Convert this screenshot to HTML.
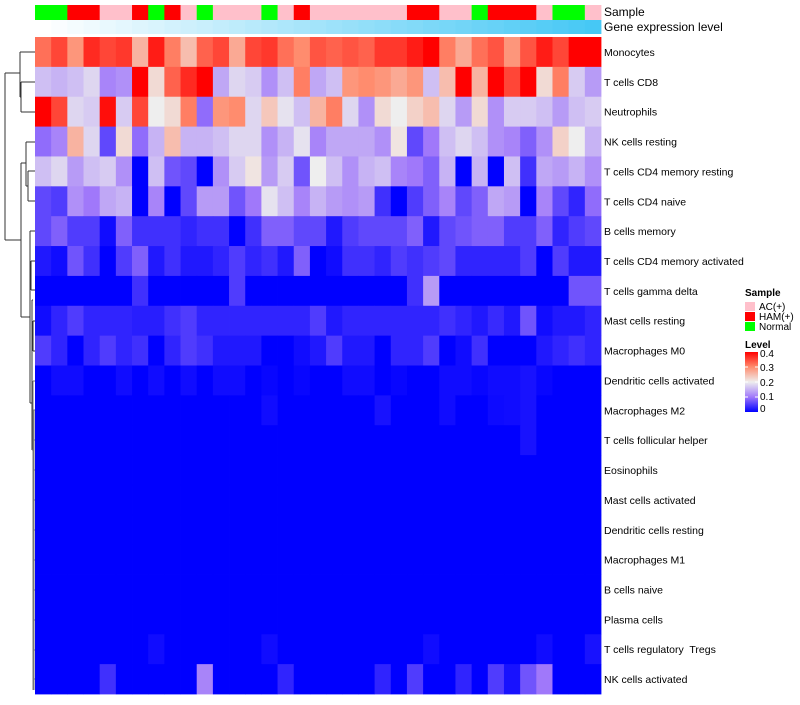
<!DOCTYPE html>
<html><head><meta charset="utf-8"><style>
body{margin:0;background:#fff;}
svg text{font-family:"Liberation Sans",sans-serif;white-space:pre;}
</style></head><body>
<svg id="chart" width="800" height="700" xmlns="http://www.w3.org/2000/svg">
<g id="dendro" stroke="#333" stroke-width="1" fill="none">
<path d="M5,73 V240 M5,73 H20 M5,240 H21"/>
<path d="M20,52 V97 M20,52 H35 M20,97 H21 M21,82 V112 M21,82 H35 M21,112 H35"/>
<path d="M21,163 V317 M21,163 H26 M21,317 H30"/>
<path d="M26,142 V186 M26,142 H35 M26,186 H28 M28,171 V201 M28,171 H35 M28,201 H35"/>
<path d="M30,231 V403 M30,231 H35 M31,261 V290 M31,261 H35 M31,290 H35 M30,275 H31"/>
<path d="M30,403 H32 M32,300 V450 M32,300 H33 M33,321 V351 M33,321 H35 M33,351 H35"/>
<path stroke="#777" d="M32,450 H33 M33,381 V690 M33,381 H35 M34,410 V690 M33,410 H35 M34,440 H35 M34,470 H35 M34,500 H35 M34,530 H35 M34,560 H35 M34,590 H35 M34,620 H35 M34,650 H35 M34,679 H35"/>
</g>
<g id="annot"></g>
<g id="cells"></g>
<g id="labels"></g>
<text x="604" y="16" font-size="12">Sample</text>
<text x="604" y="31" font-size="12">Gene expression level</text>
<g>
<text x="745" y="296" font-size="10" font-weight="bold">Sample</text>
<rect x="745" y="302" width="10" height="9" fill="#FFC0CB"/>
<text x="759" y="310" font-size="10">AC(+)</text>
<rect x="745" y="312" width="10" height="9" fill="#FF0000"/>
<text x="759" y="320" font-size="10">HAM(+)</text>
<rect x="745" y="322" width="10" height="9" fill="#00FF00"/>
<text x="759" y="330" font-size="10">Normal</text>
<text x="745" y="348" font-size="10" font-weight="bold">Level</text>
<defs><linearGradient id="lg" x1="0" y1="0" x2="0" y2="1">
<stop offset="0" stop-color="#ff0000"/><stop offset="0.25" stop-color="#ff8c6e"/><stop offset="0.5" stop-color="#eeeeee"/><stop offset="0.75" stop-color="#a078fa"/><stop offset="1" stop-color="#0000ff"/></linearGradient></defs>
<rect x="745" y="352" width="13" height="60" fill="url(#lg)"/>
<g stroke="#fff" stroke-width="1"><line x1="745" x2="748" y1="367" y2="367"/><line x1="755" x2="758" y1="367" y2="367"/><line x1="745" x2="748" y1="382" y2="382"/><line x1="755" x2="758" y1="382" y2="382"/><line x1="745" x2="748" y1="397" y2="397"/><line x1="755" x2="758" y1="397" y2="397"/></g>
<text x="760" y="357" font-size="10">0.4</text>
<text x="760" y="371" font-size="10">0.3</text>
<text x="760" y="386" font-size="10">0.2</text>
<text x="760" y="400" font-size="10">0.1</text>
<text x="760" y="412" font-size="10">0</text>
</g>
</svg>
<script>
const rowNames=["Monocytes","T cells CD8","Neutrophils","NK cells resting","T cells CD4 memory resting","T cells CD4 naive","B cells memory","T cells CD4 memory activated","T cells gamma delta","Mast cells resting","Macrophages M0","Dendritic cells activated","Macrophages M2","T cells follicular helper","Eosinophils","Mast cells activated","Dendritic cells resting","Macrophages M1","B cells naive","Plasma cells","T cells regulatory  Tregs","NK cells activated"];
const sampleGroups=["N","N","H","H","A","A","H","N","H","A","N","A","A","A","N","A","H","A","A","A","A","A","A","H","H","A","A","N","H","H","H","A","N","N","A"];
const r0=[0.32,0.35,0.29,0.37,0.35,0.36,0.26,0.38,0.31,0.25,0.33,0.35,0.27,0.35,0.36,0.32,0.30,0.34,0.33,0.34,0.33,0.36,0.36,0.38,0.40,0.31,0.27,0.32,0.34,0.29,0.34,0.38,0.35,0.40,0.40];
const r1=[0.16,0.15,0.16,0.18,0.11,0.12,0.40,0.22,0.33,0.37,0.40,0.14,0.18,0.17,0.12,0.16,0.31,0.14,0.16,0.29,0.30,0.29,0.27,0.29,0.16,0.25,0.40,0.26,0.40,0.35,0.40,0.22,0.31,0.17,0.13];
const r2=[0.40,0.35,0.18,0.17,0.39,0.17,0.35,0.20,0.22,0.31,0.09,0.29,0.30,0.18,0.24,0.19,0.16,0.26,0.31,0.18,0.12,0.22,0.20,0.23,0.25,0.18,0.13,0.22,0.12,0.17,0.17,0.16,0.13,0.16,0.17];
const r3=[0.09,0.11,0.26,0.18,0.06,0.22,0.09,0.15,0.25,0.15,0.15,0.16,0.18,0.18,0.12,0.15,0.19,0.11,0.14,0.14,0.14,0.12,0.21,0.06,0.10,0.16,0.18,0.16,0.12,0.11,0.08,0.12,0.23,0.20,0.15];
const r4=[0.16,0.18,0.13,0.16,0.17,0.12,0,0.16,0.07,0.06,0,0.12,0.17,0.21,0.13,0.17,0.07,0.20,0.16,0.12,0.15,0.16,0.11,0.10,0.08,0.15,0,0.15,0,0.16,0.04,0.14,0.13,0.15,0.12];
const r5=[0.06,0.05,0.12,0.10,0.14,0.15,0,0.11,0,0.06,0.13,0.13,0.07,0.10,0.19,0.16,0.11,0.15,0.13,0.12,0.13,0.04,0,0.05,0.08,0.11,0.06,0.08,0.14,0.13,0,0.11,0.06,0.03,0.09];
const r6=[0.06,0.08,0.05,0.05,0.01,0.08,0.04,0.04,0.04,0.03,0.04,0.04,0,0.04,0.08,0.08,0.06,0.06,0.02,0.05,0.06,0.06,0.06,0.08,0.02,0.06,0.07,0.08,0.08,0.05,0.05,0.08,0.03,0.05,0.06];
const r7=[0.02,0.01,0.07,0.04,0,0.05,0.08,0.02,0.04,0.02,0.02,0.03,0.05,0.03,0.04,0.02,0.08,0,0.01,0.04,0.04,0.03,0.05,0.04,0.05,0.06,0.03,0.03,0.03,0.03,0.05,0,0.05,0.02,0.02];
const r8=[0,0,0,0,0,0,0.04,0,0,0,0,0,0.05,0,0,0,0,0,0,0,0,0,0,0.04,0.13,0,0,0,0,0,0,0,0,0.07,0.07];
const r9=[0.01,0.03,0.05,0.03,0.03,0.03,0.025,0.025,0.04,0.05,0.03,0.03,0.03,0.03,0.03,0.03,0.03,0.05,0.02,0.03,0.03,0.03,0.03,0.03,0.03,0.04,0.03,0.02,0.035,0.02,0.07,0.01,0.02,0.02,0.03];
const r10=[0.05,0.03,0,0.03,0.05,0.03,0.04,0,0.03,0.05,0.04,0.02,0.02,0.02,0,0,0.01,0.02,0.05,0.02,0.02,0,0.03,0.03,0.05,0,0.01,0.04,0,0,0,0.02,0.03,0.04,0.03];
const r11=[0,0.01,0.01,0,0,0.01,0,0.01,0,0.01,0,0.01,0.01,0,0.005,0,0.005,0,0,0.01,0.01,0,0.005,0,0,0.01,0.01,0.005,0.01,0.01,0.015,0.005,0,0,0];
const r12=[0,0,0,0,0,0,0,0,0,0,0,0,0,0,0.01,0,0,0,0,0,0,0.015,0,0,0,0.01,0,0,0.008,0.01,0.015,0,0,0,0];
const r13=[0,0,0,0,0,0,0,0,0,0,0,0,0,0,0,0,0,0,0,0,0,0,0,0,0,0,0,0,0,0,0.015,0,0,0,0];
const r14=[0,0,0,0,0,0,0,0,0,0,0,0,0,0,0,0,0,0,0,0,0,0,0,0,0,0,0,0,0,0,0,0,0,0,0];
const r15=[0,0,0,0,0,0,0,0,0,0,0,0,0,0,0,0,0,0,0,0,0,0,0,0,0,0,0,0,0,0,0,0,0,0,0];
const r16=[0,0,0,0,0,0,0,0,0,0,0,0,0,0,0,0,0,0,0,0,0,0,0,0,0,0,0,0,0,0,0,0,0,0,0];
const r17=[0,0,0,0,0,0,0,0,0,0,0,0,0,0,0,0,0,0,0,0,0,0,0,0,0,0,0,0,0,0,0,0,0,0,0];
const r18=[0,0,0,0,0,0,0,0,0,0,0,0,0,0,0,0,0,0,0,0,0,0,0,0,0,0,0,0,0,0,0,0,0,0,0];
const r19=[0,0,0,0,0,0,0,0,0,0,0,0,0,0,0,0,0,0,0,0,0,0,0,0,0,0,0,0,0,0,0,0,0,0,0];
const r20=[0,0,0,0,0,0,0,0.01,0,0,0,0,0,0,0.01,0,0,0,0,0,0,0,0,0,0.01,0,0,0,0,0,0,0.01,0,0,0.015];
const r21=[0,0,0,0,0.04,0,0,0,0,0,0.11,0,0,0,0,0.03,0,0,0,0,0,0.03,0,0.05,0,0,0.03,0,0.05,0.015,0.07,0.10,0,0,0];
const values=[r0,r1,r2,r3,r4,r5,r6,r7,r8,r9,r10,r11,r12,r13,r14,r15,r16,r17,r18,r19,r20,r21];
const sampleColors={A:"#FFC0CB",H:"#FF0000",N:"#00FF00"};
const sampleLabels={A:"AC(+)",H:"HAM(+)",N:"Normal"};

const X0=35,X1=601,Y0=37,Y1=694;
const nCol=sampleGroups.length,nRow=rowNames.length;
const cw=(X1-X0)/nCol,rh=(Y1-Y0)/nRow;
function xPos(c){return X0+c*cw;}
function yPos(r){return Y0+r*rh;}
const stops=[[0,[0,0,255]],[0.1,[160,120,250]],[0.2,[238,238,238]],[0.3,[255,140,110]],[0.4,[255,0,0]]];
function color(v){
  v=Math.max(0,Math.min(0.4,v));
  for(let i=0;i<stops.length-1;i++){
    const [a,ca]=stops[i],[b,cb]=stops[i+1];
    if(v<=b){const t=(v-a)/(b-a);
      return "rgb("+ca.map((x,k)=>Math.round(x+(cb[k]-x)*t)).join(",")+")";}
  }
  return "rgb(255,0,0)";
}
const NS="http://www.w3.org/2000/svg";
const cells=document.getElementById("cells");
for(let r=0;r<nRow;r++){for(let c=0;c<nCol;c++){
  const el=document.createElementNS(NS,"rect");
  el.setAttribute("x",xPos(c));el.setAttribute("y",yPos(r));
  el.setAttribute("width",cw+0.4);el.setAttribute("height",rh+0.4);
  el.setAttribute("fill",color(values[r][c]));
  
  
  cells.appendChild(el);
}}
const annot=document.getElementById("annot");
for(let c=0;c<nCol;c++){
  const s=document.createElementNS(NS,"rect");
  s.setAttribute("x",xPos(c));s.setAttribute("y",5);
  s.setAttribute("width",cw+0.4);s.setAttribute("height",15);
  s.setAttribute("fill",sampleColors[sampleGroups[c]]);
  
  
  annot.appendChild(s);
  const g=document.createElementNS(NS,"rect");
  const t=c/(nCol-1);
  g.setAttribute("x",xPos(c));g.setAttribute("y",20);
  g.setAttribute("width",cw+0.4);g.setAttribute("height",14);
  g.setAttribute("fill","rgb("+Math.round(255-185*t)+","+Math.round(255-55*t)+","+Math.round(255-10*t)+")");
  
  
  annot.appendChild(g);
}
const labels=document.getElementById("labels");
for(let r=0;r<nRow;r++){
  const t=document.createElementNS(NS,"text");
  t.setAttribute("x",604);t.setAttribute("y",yPos(r)+rh/2+4);
  t.setAttribute("font-size","10.5");
  t.textContent=rowNames[r];
  
  
  labels.appendChild(t);
}
</script>
</body></html>
